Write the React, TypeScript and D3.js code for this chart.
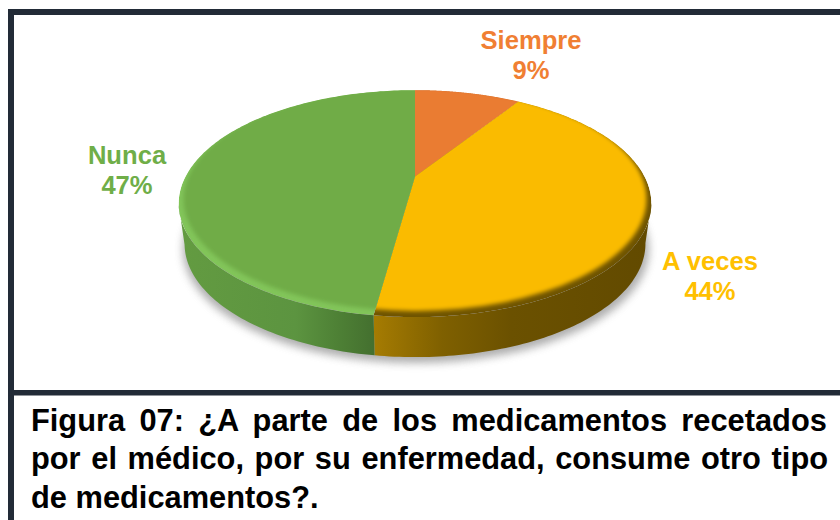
import React from "react";
import * as d3 from "d3";

const categories = ["Siempre", "A veces", "Nunca"];
const percentLabels = ["9%", "44%", "47%"];
const sliceShares = [9.1, 43.1, 47.8];
const sliceColors = ["#ea7c31", "#fabb00", "#6fac46"];
const rimColors = ["#b55f22", "#6f5400", "#82c55a"];
const labelColors = ["#f07f33", "#ffc000", "#6fae48"];
const captionLines = [
  "Figura 07: ¿A parte de los medicamentos recetados",
  "por el médico, por su enfermedad, consume otro tipo",
  "de medicamentos?.",
];

const W = 840, H = 520;
const cx = 415, apexY = 176.5, a = 229.5, b = 107, k = -0.239, depth = 40, taper = 0.975;
const ellipseCy = 203;

const project = (ang: number): [number, number] => {
  const x = Math.sin(ang), y = -Math.cos(ang);
  const w = 1 + k * y;
  return [cx + (a * x) / w, apexY + (b * y) / w];
};
const pie = d3.pie<number>().sort(null).value((d) => d);
const arcs = pie(sliceShares);
const line = d3.line();
const sample = (s: number, e: number) =>
  d3.range(0, 161).map((i) => project(s + ((e - s) * i) / 160));
const sectorPath = (s: number, e: number) =>
  line([[cx, apexY], ...sample(s, e)])! + "Z";
const wallPath = (s: number, e: number) => {
  const pts = sample(s, e).filter((p) => p[1] >= ellipseCy);
  if (pts.length < 2) return "";
  const low = pts.map((p) => [cx + (p[0] - cx) * taper, p[1] + depth] as [number, number]).reverse();
  return line([...pts, ...low])! + "Z";
};

const labelPos: [number, number][] = [[531, 49], [710, 270], [127, 164]];

const measure = () => {
  const ctx = document.createElement("canvas").getContext("2d")!;
  ctx.font = 'bold 30.8px "Liberation Sans"';
  return (t: string) => ctx.measureText(t).width;
};

export default function App() {
  const mw = measure();
  const capX = 31, capW = 797;
  const capY = [431, 469, 508];
  return (
    <svg width={W} height={H} viewBox={`0 0 ${W} ${H}`}
      style={{ position: "absolute", left: 0, top: 0, background: "#fff", fontFamily: '"Liberation Sans", Arial, sans-serif' }}>
      <defs>
        <filter id="sh" x="-20%" y="-20%" width="140%" height="140%"><feGaussianBlur stdDeviation="4" /></filter>
        <filter id="rim" x="-5%" y="-5%" width="110%" height="110%"><feGaussianBlur stdDeviation="2.2" /></filter>
        <linearGradient id="wall1" gradientUnits="userSpaceOnUse" x1="373" x2="650" y1="0" y2="0">
          <stop offset="0" stopColor="#a67c02" />
          <stop offset="0.25" stopColor="#7f6000" />
          <stop offset="0.5" stopColor="#6b5100" />
          <stop offset="1" stopColor="#624a00" />
        </linearGradient>
        <linearGradient id="wall2" gradientUnits="userSpaceOnUse" x1="180" x2="373" y1="0" y2="0">
          <stop offset="0" stopColor="#639b41" />
          <stop offset="0.6" stopColor="#5c9440" />
          <stop offset="0.8" stopColor="#4f8236" />
          <stop offset="1" stopColor="#44702f" />
        </linearGradient>
        {arcs.map((d, i) => (
          <clipPath id={`c${i}`} key={i}>
            <path d={sectorPath(d.startAngle, d.endAngle)} />
          </clipPath>
        ))}
      </defs>

      <ellipse cx={cx + 1} cy={ellipseCy + depth + 6} rx={233} ry={114} fill="#777" opacity={0.6} filter="url(#sh)" />

      {arcs.map((d, i) => (
        <path key={i} d={wallPath(d.startAngle, d.endAngle)} fill={i === 0 ? "none" : `url(#wall${i})`} />
      ))}

      {arcs.map((d, i) => (
        <g key={i} clipPath={`url(#c${i})`}>
          <path d={sectorPath(d.startAngle, d.endAngle)} fill={rimColors[i]} />
          <ellipse cx={cx} cy={199} rx={231.5} ry={112} fill={sliceColors[i]} filter="url(#rim)" />
        </g>
      ))}

      {categories.map((c, i) => (
        <text key={c} x={labelPos[i][0]} y={labelPos[i][1]} textAnchor="middle" fontWeight="bold" fontSize={25.6} fill={labelColors[i]}>
          <tspan x={labelPos[i][0]}>{c}</tspan>
          <tspan x={labelPos[i][0]} dy={30}>{percentLabels[i]}</tspan>
        </text>
      ))}

      <g fill="#222b37">
        <rect x={8} y={9} width={832} height={6} />
        <rect x={8} y={9} width={6} height={511} />
        <rect x={8} y={390} width={832} height={5.5} />
      </g>

      {captionLines.map((t, i) => {
        const spaces = t.split(" ").length - 1;
        const ws = i < 2 ? (capW - mw(t)) / spaces : 0;
        return (
          <text key={i} x={capX} y={capY[i]} fontWeight="bold" fontSize={30.8} fill="#000" wordSpacing={ws}>{t}</text>
        );
      })}
    </svg>
  );
}
